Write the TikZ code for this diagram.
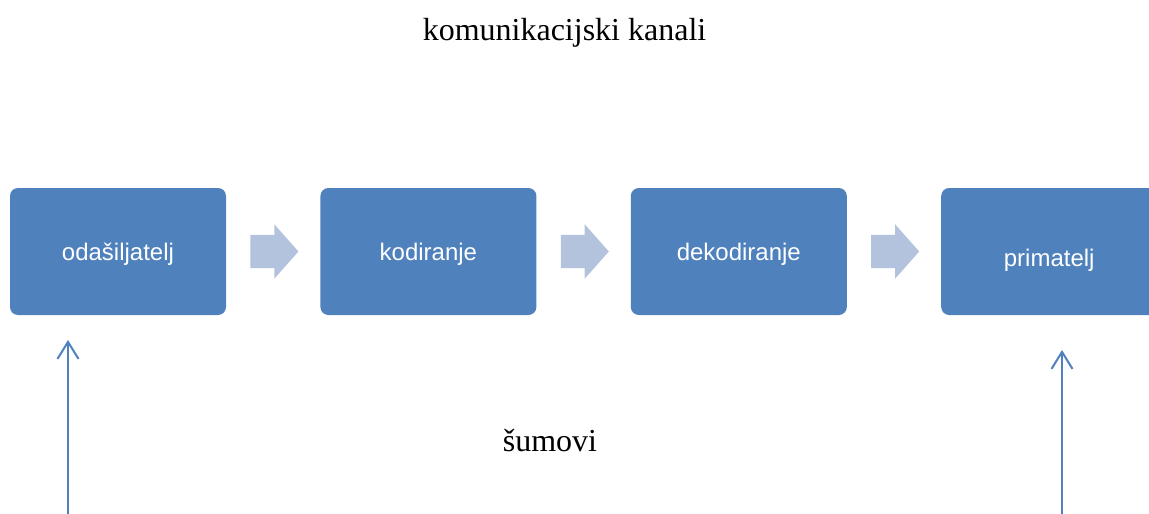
\documentclass[tikz,border=0pt]{standalone}
\usepackage{fontspec}
\setmainfont{Liberation Serif}
\setsansfont{Liberation Sans}
\usepackage{tikz}
\usetikzlibrary{positioning}
\usetikzlibrary{shapes.arrows, arrows.meta}
\definecolor{plava}{RGB}{79,129,189}
\definecolor{svijetla}{RGB}{180,195,221}
\tikzstyle{blok} = [rectangle, rounded corners=8pt, minimum width=216pt, minimum height=127pt, inner sep=0pt, text height=18pt, text depth=0pt, fill=plava, text=white, font=\sffamily\fontsize{24}{28}\selectfont]
\tikzstyle{strelica} = [single arrow, fill=svijetla, minimum height=48pt, minimum width=54pt, single arrow head extend=10.5pt, single arrow tip angle=97, inner xsep=0pt, inner ysep=16.5pt]
\tikzstyle{natpis} = [font=\fontsize{32}{38}\selectfont]
\tikzstyle{sum} = [line width=2pt, draw=plava, -{Straight Barb[length=17pt,width=21pt]}]

\begin{document}
\begin{tikzpicture}[x=1pt, y=1pt, node distance=94pt]
\useasboundingbox (0,0) rectangle (1149,-514);

\node(naslov)[natpis] at (564.5,-32.5) {komunikacijski kanali};

\node(odasiljatelj)[blok] at (118,-251.5) {odašiljatelj};
\node(kodiranje)[blok,right=of odasiljatelj] {kodiranje};
\node(dekodiranje)[blok,right=of kodiranje] {dekodiranje};
\node(primatelj)[blok,right=of dekodiranje,text height=29pt] {primatelj};

\node(s1)[strelica,right=24pt of odasiljatelj] {};
\node(s2)[strelica,right=24pt of kodiranje] {};
\node(s3)[strelica,right=24pt of dekodiranje] {};

\node(sumovi)[natpis] at (550,-441) {šumovi};

\coordinate (izvor1) at (68,-514);
\coordinate (cilj1) at (68,-340);
\coordinate (izvor2) at (1062,-514);
\coordinate (cilj2) at (1062,-350);

\draw [sum] (izvor1) -- (cilj1);
\draw [sum] (izvor2) -- (cilj2);
\end{tikzpicture}
\end{document}
